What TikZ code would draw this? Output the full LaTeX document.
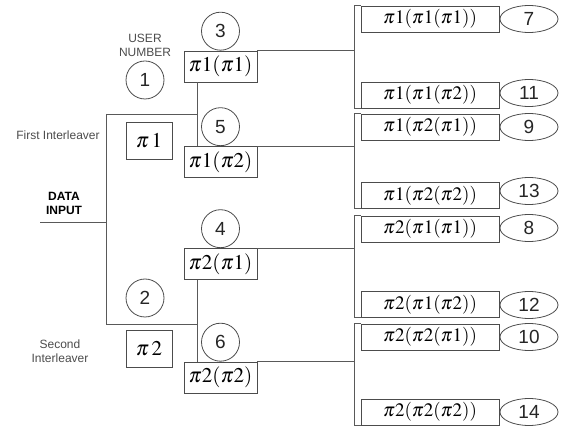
\documentclass[tikz,border=0pt]{standalone}
\usepackage{mathptmx}
\usepackage{fontspec}
\setsansfont{Liberation Sans}
\usetikzlibrary{shapes.geometric}

\tikzset{
  line/.style={draw=black!65,line width=0.9pt},
  usernum/.style={circle,draw=black!70,line width=0.8pt,minimum size=38pt,inner sep=0pt,
    font=\sffamily\fontsize{19}{21}\selectfont,text=black!85},
  leafnum/.style={ellipse,draw=black!70,line width=0.8pt,minimum width=58pt,minimum height=27pt,inner sep=0pt,
    font=\sffamily\fontsize{19}{21}\selectfont,text=black!85},
  permbox/.style={draw=black!70,line width=0.8pt,minimum width=73pt,minimum height=31pt,inner sep=0pt,
    font=\fontsize{21}{23}\selectfont},
  leafbox/.style={draw=black!70,line width=0.8pt,minimum width=138pt,minimum height=26pt,inner sep=0pt,
    font=\fontsize{19}{21}\selectfont},
  ilvbox/.style={draw=black!70,line width=0.8pt,minimum width=46pt,minimum height=37pt,inner sep=0pt,
    font=\fontsize{21}{23}\selectfont},
  caption/.style={font=\sffamily\fontsize{12}{14}\selectfont,text=black!70,align=center},
}

\begin{document}
\begin{tikzpicture}[x=1pt,y=-1pt]
      \useasboundingbox (0,0) rectangle (565,427);
      % left part
      \node[caption] (user) at (145,45) {USER\\NUMBER};
      \node[usernum] (u1) at (145,80) {1};
      \node[caption] (first) at (58,135) {First Interleaver};
      \node[ilvbox] (pi1) at (149,140.5) {$\pi\,1$};
      \node[caption,font=\sffamily\bfseries\fontsize{12}{14}\selectfont,text=black] (data) at (64,203) {DATA\\INPUT};
      \node[usernum] (u2) at (145,298) {2};
      \node[caption] (second) at (60,351) {Second\\Interleaver};
      \node[ilvbox] (pi2) at (149,349) {$\pi\,2$};
      % second stage
      \node[permbox] (p3) at (220.5,66.5) {$\pi1(\pi1)$};
      \node[usernum,anchor=south] (u3) at (p3.north) {3};
      \node[permbox] (p5) at (220.5,162) {$\pi1(\pi2)$};
      \node[usernum,anchor=south] (u5) at (p5.north) {5};
      \node[permbox] (p4) at (220.5,264) {$\pi2(\pi1)$};
      \node[usernum,anchor=south] (u4) at (p4.north) {4};
      \node[permbox] (p6) at (220.5,377.5) {$\pi2(\pi2)$};
      \node[usernum,anchor=south] (u6) at (p6.north) {6};
      % third stage
      \node[leafbox] (b7) at (430,19) {$\pi1(\pi1(\pi1))$};
      \node[leafnum] (e7) at (529,19) {7};
      \node[leafbox] (b11) at (430,95) {$\pi1(\pi1(\pi2))$};
      \node[leafnum] (e11) at (529,93) {11};
      \node[leafbox] (b9) at (430,127) {$\pi1(\pi2(\pi1))$};
      \node[leafnum] (e9) at (529,127) {9};
      \node[leafbox] (b13) at (430,195.5) {$\pi1(\pi2(\pi2))$};
      \node[leafnum] (e13) at (529,191) {13};
      \node[leafbox] (b8) at (430,229) {$\pi2(\pi1(\pi1))$};
      \node[leafnum] (e8) at (529,228) {8};
      \node[leafbox] (b12) at (430,304.5) {$\pi2(\pi1(\pi2))$};
      \node[leafnum] (e12) at (529,305) {12};
      \node[leafbox] (b10) at (430,337) {$\pi2(\pi2(\pi1))$};
      \node[leafnum] (e10) at (529,337) {10};
      \node[leafbox] (b14) at (430,412) {$\pi2(\pi2(\pi2))$};
      \node[leafnum] (e14) at (529,412) {14};
      % tree
      \coordinate (in) at (40,222);
      \coordinate (s) at (106,222);
      \coordinate (s1) at (106,114);
      \coordinate (s2) at (106,324);
      \coordinate (t1) at (197,114);
      \coordinate (t2) at (197,324);
      \draw[line] (in) -- (s);
      \draw[line] (s1) -- (s2);
      \draw[line] (s1) -- (t1);
      \draw[line] (s2) -- (t2);
      \draw[line] (t1 |- p3.south) -- (t1 |- p5.north);
      \draw[line] (t2 |- p4.south) -- (t2 |- p6.north);
      % brackets
      \coordinate (k) at (354,0);
      \draw[line] (p3.north east) -- (k |- p3.north);
      \draw[line] (b7.north west) -| (k |- b7.north) |- (b11.south west);
      \draw[line] (p5.north east) -- (k |- p5.north);
      \draw[line] (b9.north west) -| (k |- b9.north) |- (b13.south west);
      \draw[line] (p4.north east) -- (k |- p4.north);
      \draw[line] (b8.north west) -| (k |- b8.north) |- (b12.south west);
      \draw[line] (p6.north east) -- (k |- p6.north);
      \draw[line] (b10.north west) -| (k |- b10.north) |- (b14.south west);
    \end{tikzpicture}
\end{document}
